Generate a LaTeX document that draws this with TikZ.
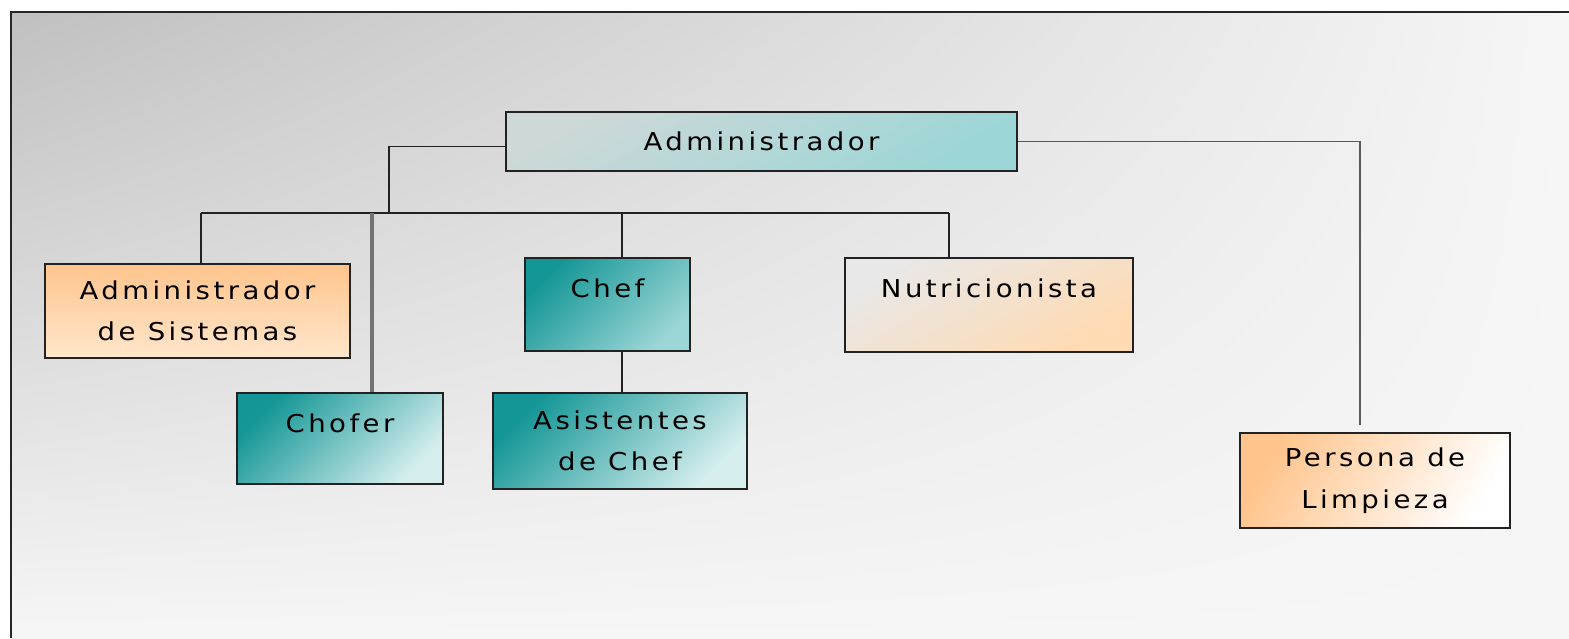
\documentclass[tikz,border=0pt]{standalone}
\usepackage{fontspec}
\usepackage{xcolor}
\usetikzlibrary{shadings}
\newfontfamily\orgfont[LetterSpace=14, FakeStretch=1.12]{DejaVu Sans}
\definecolor{bg-dark}{RGB}{192,192,192}
\definecolor{bg-light}{RGB}{246,246,246}
\definecolor{box-line}{RGB}{34,34,34}
\definecolor{teal-dark}{RGB}{20,150,150}
\definecolor{teal-mid}{RGB}{156,214,214}
\definecolor{teal-light}{RGB}{214,238,238}
\definecolor{admin-grey}{RGB}{206,216,216}
\definecolor{orange-dark}{RGB}{255,196,140}
\definecolor{orange-light}{RGB}{255,230,204}
\definecolor{peach}{RGB}{255,218,178}
\definecolor{nutri-grey}{RGB}{232,232,232}
\tikzset{
    org-box/.style = {draw=box-line, line width=1.4pt, rectangle, inner sep=0pt, align=center,
        font=\orgfont\fontsize{17.5pt}{29.5pt}\selectfont},
    top-label/.style = {text height=0.975cm, text depth=#1},
    teal-box/.style = {top color=teal-dark, middle color=teal-light!85!teal-mid, bottom color=teal-light, shading angle=45},
    chef-box/.style = {top color=teal-dark, middle color=teal-mid, bottom color=teal-mid, shading angle=45},
    orange-box/.style = {top color=orange-dark, bottom color=orange-light},
    org-line/.style = {draw=box-line, line width=1.4pt},
    chofer-line/.style = {draw=black!55, line width=3pt},
    thin-line/.style = {draw=black!65, line width=0.9pt},
}
\begin{document}
\begin{tikzpicture}[x=0.025cm, y=-0.025cm]
\useasboundingbox (0,0) rectangle (1569,638);
\shade[upper left=bg-dark, upper right=bg-light, lower left=bg-light, lower right=bg-light] (11,12) rectangle (1569,638);
\draw[black!85, line width=1.8pt] (11,638) -- (11,12) -- (1569,12);

\node[org-box, minimum width=12.775cm, minimum height=1.475cm,
    top color=admin-grey, bottom color=teal-mid, shading angle=30] (admin) at (761.5,141.5) {Administrador};
\node[org-box, orange-box, minimum width=7.625cm, minimum height=2.35cm] (sistemas) at (197.5,311) {Administrador\\de Sistemas};
\node[org-box, teal-box, minimum width=5.15cm, top-label=1.3cm] (chofer) at (340,438.5) {Chofer};
\node[org-box, chef-box, minimum width=4.125cm, top-label=1.35cm] (chef) at (607.5,304.5) {Chef};
\node[org-box, teal-box, minimum width=6.35cm, minimum height=2.4cm] (asist) at (620,441) {Asistentes\\de Chef};
\node[org-box, top color=nutri-grey, bottom color=peach, shading angle=30,
    minimum width=7.2cm, top-label=1.375cm] (nutri) at (989,305) {Nutricionista};
\node[org-box, left color=orange-dark, right color=white, shading angle=60,
    minimum width=6.75cm, minimum height=2.375cm] (limpieza) at (1375,480.5) {Persona de\\Limpieza};

\coordinate (bus-west) at (201,213);
\coordinate (bus-east) at (949,213);
\coordinate (bus-admin) at (389,213);
\coordinate (bus-chofer) at (372,213);
\coordinate (bus-chef) at (622,213);
\coordinate (limpieza-tap) at (1360,425);

\draw[org-line] ([yshift=-0.125cm]admin.west) -| (bus-admin);
\draw[org-line] (bus-west) -- (bus-east);
\draw[org-line] (bus-west) -- (bus-west |- sistemas.north);
\draw[chofer-line] (bus-chofer) -- (bus-chofer |- chofer.north);
\draw[org-line] (bus-chef) -- (bus-chef |- chef.north);
\draw[org-line] (bus-chef |- chef.south) -- (bus-chef |- asist.north);
\draw[org-line] (bus-east) -- (bus-east |- nutri.north);
\draw[thin-line] (admin.east) -| (limpieza-tap);
\end{tikzpicture}
\end{document}
